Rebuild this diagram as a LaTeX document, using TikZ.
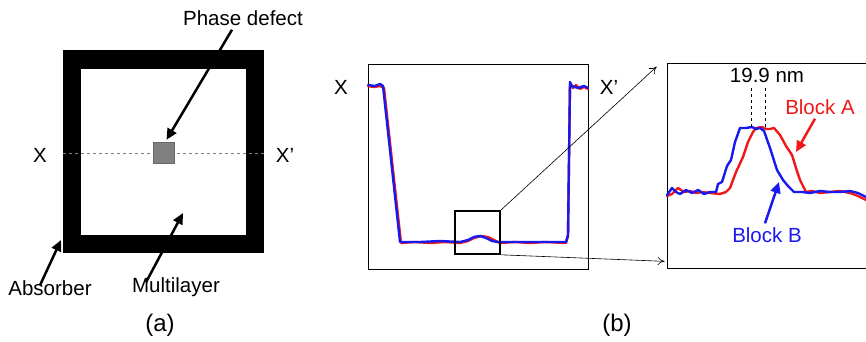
\documentclass[tikz,border=0pt]{standalone}
\usepackage{fontspec}
\setmainfont{Liberation Sans}
\usetikzlibrary{arrows.meta,positioning}
\definecolor{DefectGray}{HTML}{808080}
\definecolor{TraceRed}{HTML}{F01818}
\definecolor{TraceBlue}{HTML}{1818F0}
\tikzset{
  txt/.style={font=\fontsize{20.5}{23}\selectfont, inner sep=0pt},
  panel/.style={font=\fontsize{24}{27}\selectfont, inner sep=0pt},
  callout/.style={-{Triangle[length=11pt,width=10pt]}, line width=2.5pt},
  zoomline/.style={-{To[length=7pt,width=8pt]}, line width=0.6pt},
  trace/.style={line width=2.4pt, line join=round, line cap=round},
  frame/.style={draw, line width=0.7pt, inner sep=0pt}
}
\begin{document}
\begin{tikzpicture}[x=1pt, y=-1pt]
  \useasboundingbox (0,0) rectangle (866,342);

  % (a) mask with absorber frame
  \fill (63,50) rectangle (264,253);
  \fill[white] (81,69) rectangle (246,235);
  \draw[dashed, gray, line width=0.5pt] (63,153) -- (264,153);
  \node[draw=DefectGray!80!black, fill=DefectGray, minimum size=21pt, inner sep=0pt] (defect) at (163.5,152.5) {};
  \node[txt] (xa) at (40,155) {X};
  \node[txt] (xpa) at (285,155) {X’};
  \node[txt] (phase) at (243,18) {Phase defect};
  \node[txt] (absorber) at (50,288) {Absorber};
  \node[txt] (multi) at (176,287) {Multilayer};
  \coordinate (abstip) at (61,240);
  \coordinate (multitip) at (183,213);
  \draw[callout] ([xshift=-11pt,yshift=-4pt]phase.south) -- ([xshift=3pt,yshift=2pt]defect.north);
  \draw[callout] ([xshift=-10pt,yshift=-5pt]absorber.north) -- (abstip);
  \draw[callout] ([xshift=-30pt,yshift=-5pt]multi.north) -- (multitip);
  \node[panel] (pa) at (160,325) {(a)};

  % (b) line profile
  \node[frame, minimum width=220pt, minimum height=205pt] (prof) at (478,166.5) {};
  \node[txt] (xb) at (341,87) {X};
  \node[txt] (xpb) at (609,87) {X’};
  \draw[trace, TraceRed] plot coordinates {(368,86) (374,87) (380,86) (384,88) (401,243) (415,242) (430,243) (445,242) (460,243) (468,241) (474,238) (481,236) (488,237) (494,240) (500,243) (515,242) (530,243) (545,242) (566,243) (568,236) (570,84) (573,88) (576,85) (580,89) (584,87) (588,89)};
  \draw[trace, TraceBlue] plot coordinates {(368,85) (375,86) (380,84) (383,86) (400,242) (420,242) (440,241) (460,242) (468,240) (474,237) (480,236) (486,238) (492,241) (498,242) (520,242) (545,242) (566,242) (568,235) (570,82) (572,86) (578,88) (584,86) (588,88)};
  \node[frame, line width=1.6pt, minimum width=45pt, minimum height=43pt] (zoom) at (477.5,232.5) {};

  % (b) detail
  \node[frame, minimum width=202pt, minimum height=205pt] (detail) at (768,165.5) {};
  \draw[trace, TraceRed] plot coordinates {(667,196) (672,194) (678,188) (684,192) (690,191) (696,193) (702,192) (710,193) (720,194) (726,192) (730,188) (736,172) (743,157) (748,142) (753,132) (756,128) (762,127) (766,129) (770,129) (774,128) (780,135) (786,146) (792,155) (796,168) (800,180) (806,192) (812,191) (820,193) (830,192) (840,191) (850,193) (858,196) (866,200)};
  \draw[trace, TraceBlue] plot coordinates {(667,195) (672,188) (676,192) (680,194) (686,190) (692,193) (698,190) (704,194) (710,192) (716,192) (718,184) (722,182) (727,166) (731,160) (735,142) (740,128) (746,128) (752,127) (756,129) (760,128) (764,131) (770,148) (777,170) (783,180) (788,186) (794,192) (802,192) (810,193) (820,191) (830,192) (840,192) (850,191) (858,193) (866,197)};
  \node[txt] (width) at (767,75) {19.9 nm};
  \draw[dashed, line width=0.6pt] (751,88) -- (751,128);
  \draw[dashed, line width=0.6pt] (765,88) -- (765,128);
  \node[txt, TraceRed] (blocka) at (820,107) {Block A};
  \node[txt, TraceBlue] (blockb) at (767,235) {Block B};
  \coordinate (atip) at (796,152);
  \coordinate (btip) at (779,182);
  \draw[callout, TraceRed] ([xshift=-5pt,yshift=-4pt]blocka.south) -- (atip);
  \draw[callout, TraceBlue] ([xshift=-2pt,yshift=4pt]blockb.north) -- (btip);
  \draw[zoomline] (zoom.north east) -- ([xshift=-10pt,yshift=-4pt]detail.north west);
  \draw[zoomline] (zoom.south east) -- ([xshift=-2pt,yshift=7pt]detail.south west);
  \node[panel] (pb) at (617,325) {(b)};
\end{tikzpicture}
\end{document}
